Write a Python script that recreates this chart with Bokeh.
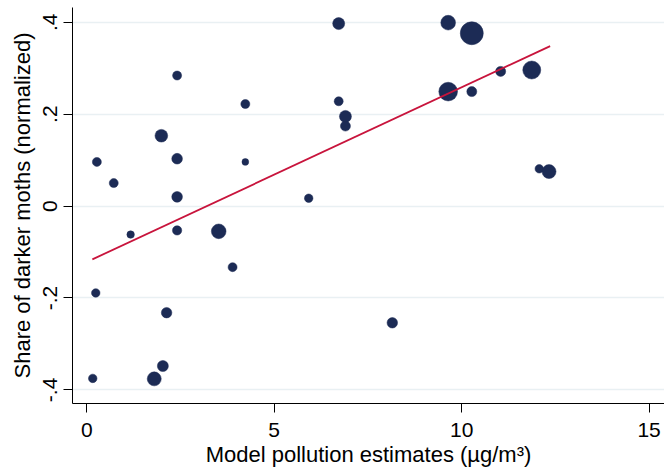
from bokeh.plotting import figure
from bokeh.models import Range1d, FixedTicker, ColumnDataSource
from bokeh.embed import file_html
from bokeh.resources import INLINE

# Data
pollution = [0.27, 0.72, 1.17, 1.99, 2.41, 2.41, 2.41, 2.41, 3.52, 4.23, 4.23,
             5.92, 6.72, 6.72, 6.90, 6.90, 9.64, 10.27, 11.04, 11.87, 9.64, 10.27,
             12.07, 12.33, 3.89, 0.24, 2.13, 2.03, 1.80, 0.16, 8.15]
dark_share = [0.096, 0.050, -0.062, 0.153, 0.284, 0.103, 0.020, -0.053, -0.055, 0.222, 0.096,
              0.017, 0.397, 0.228, 0.195, 0.174, 0.399, 0.376, 0.293, 0.296, 0.249, 0.249,
              0.081, 0.075, -0.133, -0.189, -0.232, -0.348, -0.376, -0.375, -0.254]
weight = [9, 9, 7.5, 12.7, 9, 10.7, 10.7, 9.3, 14.7, 9, 6.8,
          8.5, 12, 9, 12, 10, 14.7, 23, 10, 18, 18.7, 10,
          8.5, 14, 9, 8.5, 10.5, 11, 14, 8.5, 10.5]

fit_x = [0.15, 12.36]
fit_y = [-0.116, 0.348]

x_ticks = [0, 5, 10, 15]
y_ticks = [-0.4, -0.2, 0, 0.2, 0.4]
y_tick_labels = {-0.4: "-.4", -0.2: "-.2", 0: "0", 0.2: ".2", 0.4: ".4"}

FONT = "Liberation Sans"

p = figure(width=664, height=469, output_backend="svg", toolbar_location=None,
           x_range=Range1d(-0.38, 15.41), y_range=Range1d(-0.4296, 0.432),
           min_border_left=72, min_border_right=0, min_border_top=7, min_border_bottom=66)
p.background_fill_color = "white"
p.border_fill_color = "white"
p.outline_line_color = None

p.xgrid.grid_line_color = None
p.ygrid.grid_line_color = "#e9f0f3"
p.ygrid.grid_line_width = 1.5

src = ColumnDataSource(dict(x=pollution, y=dark_share, s=weight))
p.scatter("x", "y", size="s", source=src, fill_color="#1c2b55", line_color="#1c2b55",
          line_width=0.5)
p.line(fit_x, fit_y, line_color="#c8143c", line_width=1.8)

for ax in (p.xaxis[0], p.yaxis[0]):
    ax.major_tick_out = 9
    ax.major_tick_in = 0
    ax.minor_tick_out = 0
    ax.minor_tick_in = 0
    ax.axis_line_color = "black"
    ax.major_tick_line_color = "black"
    ax.major_label_text_font = FONT
    ax.major_label_text_font_size = "21px"
    ax.major_label_text_color = "black"
    ax.axis_label_text_font = FONT
    ax.axis_label_text_font_size = "22px"
    ax.axis_label_text_font_style = "normal"
    ax.axis_label_text_color = "black"

p.xaxis.ticker = FixedTicker(ticks=x_ticks, minor_ticks=[])
p.yaxis.ticker = FixedTicker(ticks=y_ticks, minor_ticks=[])
p.yaxis.major_label_overrides = y_tick_labels
p.yaxis.major_label_orientation = "parallel"

p.xaxis.axis_label = "Model pollution estimates (µg/m³)"
p.yaxis.axis_label = "Share of darker moths (normalized)"
p.xaxis.major_label_standoff = 10
p.xaxis.axis_label_standoff = 2
p.yaxis.major_label_standoff = 6
p.yaxis.axis_label_standoff = 6

open("out.html", "w").write(file_html(p, INLINE))
